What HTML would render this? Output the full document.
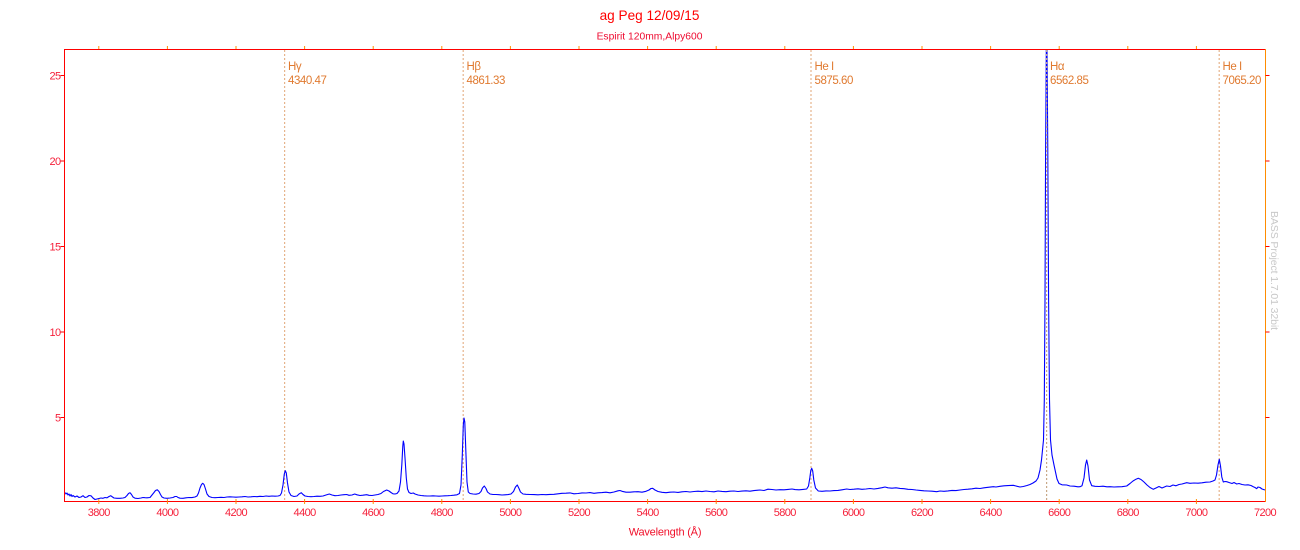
<!DOCTYPE html>
<html>
<head>
<meta charset="utf-8">
<style>
html,body{margin:0;padding:0;background:#fff;}
svg{display:block;}
text{font-family:"Liberation Sans",Arial,sans-serif;}
</style>
</head>
<body>
<svg width="1300" height="550" viewBox="0 0 1300 550" xmlns="http://www.w3.org/2000/svg">
<rect width="1300" height="550" fill="#fff"/>

<!-- Title -->
<text x="649.5" y="20" font-size="13.6" fill="#ff0000" text-anchor="middle">ag Peg 12/09/15</text>
<text x="649.5" y="39.5" font-size="10.3" fill="#ee0a30" text-anchor="middle">Espirit 120mm,Alpy600</text>

<!-- Marker lines -->
<g stroke="#e6b48c" stroke-width="1.2" stroke-dasharray="2,2" fill="none">
  <line x1="284.6" y1="50" x2="284.6" y2="501"/>
  <line x1="463.2" y1="50" x2="463.2" y2="501"/>
  <line x1="811" y1="50" x2="811" y2="501"/>
  <line x1="1219.2" y1="50" x2="1219.2" y2="501"/>
</g>

<!-- Spectrum -->
<polyline fill="none" stroke="#0000ff" stroke-width="1.1" stroke-linejoin="round" points="
65,492.5 66,494 67,493 68,495 69,494 70,496 71,494.5 72,496.5 73,495.5 75,497 77,496 79,497.5 81,497 83,495.7 85,497.5 87,497 89,495.5 91,495.8 93,498 95,499.5 97,499 99,498.5 101,498 103,498.3 105,497.5 107,497.8 109,496.5 110.7,495.7 112.5,497 114,498 117,498.3 120,498.3 123,498 125,497.5 127,495.5 128.5,493.5 130,492.7 131.5,494.5 133,497 135,498.2 138,498.5 141,498 143,497.5 145,497.7 147,497.8 150,497.5 152,495 154,492.5 155.5,490.5 157.3,489.8 159,491.5 160.5,494.5 162,497 164,498 167,498.3 170,498 173,497.5 175,496.5 176.7,496.5 178,497.5 180,498.2 183,498.3 186,497.8 189,497.5 192,497.6 195,497 197,496 198.5,493 200,488 201.5,484.5 202.7,483.3 204,484.5 205.5,489 207,494 209,496.5 212,497.5 215,497.7 218,497.5 221,497.3 224,497.5 227,497 230,496.8 233,497 236,497.2 239,497 242,496.8 245,496.5 248,497 251,496.8 254,496.5 257,496.7 260,496.3 263,496.5 266,496 269,496.3 272,496 275,496.2 278,496 280,495.5 281.5,493 283,485 284.3,474 285.3,470.7 286.3,473 287.5,483 289,492 291,495.5 294,496.5 297,496 299,494 301.3,492.7 303,494.5 305,496 308,496.5 311,496.7 314,496.5 317,496.2 320,496.3 323,496 326,495 329.3,494 332,495 335,495.7 338,495.5 341,495 344,494.7 346.7,494.5 349,495.3 352,495 354.7,494 357,494.8 360,495.5 363,495.2 366.7,494.7 369,495.3 372,495.5 375,495 378,494.5 381,493.5 383.5,491.5 386.7,490 389,491 391,492.5 393,493.8 395,494 397,493.5 399,491 400.5,482 401.8,465 402.8,446 403.3,441 404,444 405,458 406.3,478 407.5,489 409,492.5 411,493.5 413.3,493 415,494 418,495 421,495.5 424,495.8 427,496 430,496 433,495.8 436,496 439,496.2 442,496 445,495.8 448,495.7 451,495.5 454,495.2 457,494.8 459.5,493.5 461,485 462.3,455 463.3,425 464,418 464.8,422 465.8,450 467,482 468.3,492 470,493.5 473,494 476,494.2 479,493.5 481,491.5 482.5,488 484.3,486 486,488.5 487.5,492 490,494 493,494.5 496,494.5 499,494.7 502,495 505,494.8 508,494.6 511,494 513.5,491.5 515.5,487 517.3,485 519,488.5 520.5,492 523,494 526,494.3 530,494.5 534,494.6 538,494.8 542,494.5 546,494.7 550,494.4 554,494.3 558,493.8 562,493.3 566,493.2 570,492.9 574,493.8 578,493.5 582,492.9 586,493 590,492.6 594,493.3 598,492.8 602,492.6 606,492.2 610,492.8 614,492 618,490.8 620,490.5 622,491.3 626,492.2 630,492.2 634,491.8 638,491.7 642,492.2 646,491.3 649,490 651,488.5 652.7,488.3 655,490 658,491.5 662,492.3 666,492.7 670,492.2 674,492 678,492.4 682,491.8 686,491.5 690,492 694,491.5 698,491.2 702,491.6 706,491 710,491.5 714,491.8 718,491 722,491.4 726,491.7 730,491.2 734,491 738,491.5 742,491.1 746,490.8 750,491.2 754,490.6 758,490.2 760,490 764,490.5 768,489.2 772,489.5 776,490 780,489.7 784,489.8 788,489.4 792,489 795,489.6 799,489.8 803,489.4 806.7,489 808.5,486 809.8,478 810.8,470.5 811.7,468.3 812.7,471 813.8,480 815.5,488 818.3,491 822,491.3 826,490.9 830,491 834,490.6 838,490.4 842,489.8 846.7,489 850,489.5 854,489.2 858,488.8 862,489.3 866,489 870,488.5 874,489 878,488.4 882,487.7 885,487 888,487.8 892,488.2 896,487.8 900,488.4 904,488.7 908,489.3 912,489.5 916,490 920,490.4 924,490.8 928,491 932,491.2 936.7,491.7 940,491 944,491.3 948,490.9 952,490.4 956,490.6 960,490 964,489.5 968,489.2 972,488.8 976,488.2 980,488.5 984,487.8 988,487.3 993.3,486.7 996,487 1000,486.3 1004,485.8 1008,485.6 1013.3,485.3 1016,486 1020,487 1023.3,486.5 1027,485.5 1030,484.5 1033,483 1036,481 1038,478 1040,470 1041.5,460 1042.5,450 1043.5,440 1044.3,400 1045,300 1045.6,150 1046.3,50 1047,50 1047.8,150 1048.6,300 1049.5,400 1050.5,440 1052,455 1054,465 1055.5,472 1057,479 1059,483.5 1062,484.8 1066.7,485 1070,486 1074,486.2 1078,486.8 1080,486.7 1082,485.8 1084,478 1085.5,465 1086.7,460 1088,466 1089.5,480 1091.7,485.7 1095,486.3 1099,486.5 1103,486.2 1107,486.8 1110,486.7 1114,487 1118,486.8 1122,486.7 1126.7,486 1130,483.5 1133,481 1136,479.2 1138.3,478.3 1141,479.5 1144,482 1147,485 1150,487.5 1153.3,489.3 1156,488 1159,486.5 1162,488 1166.7,486 1170,486.5 1173,485 1176,485.8 1179,484.5 1182,484 1186.7,482.7 1190,483.3 1194,483 1198,483.2 1202,482.8 1206,482.2 1210,482 1213,481 1215,480 1216.5,475 1218,465 1219.3,459.3 1220.5,466 1221.8,477 1223.3,482 1225,481.5 1226.7,481.7 1229,482.5 1232,483.5 1234,482.5 1236.7,484 1239,483.5 1242,484.5 1245,485 1248,484.8 1251,485.5 1253.3,486.7 1255,487.5 1256.7,488.7 1258,487 1260,487.5 1262,489 1265,490"/>

<!-- Hα marker line drawn over spectrum -->
<line x1="1046.6" y1="50" x2="1046.6" y2="501" stroke="#c8a888" stroke-width="1.2" stroke-dasharray="2,2"/>

<!-- Marker labels -->
<g font-size="11.5" fill="#e07a30" letter-spacing="-0.45">
  <text x="288" y="70">Hγ</text><text x="288" y="84">4340.47</text>
  <text x="466.5" y="70">Hβ</text><text x="466.5" y="84">4861.33</text>
  <text x="814.5" y="70">He I</text><text x="814.5" y="84">5875.60</text>
  <text x="1050" y="70">Hα</text><text x="1050" y="84">6562.85</text>
  <text x="1222.5" y="70">He I</text><text x="1222.5" y="84">7065.20</text>
</g>

<!-- Axes frame -->
<line x1="64.5" y1="49.5" x2="1265.5" y2="49.5" stroke="#ff0000" stroke-width="1"/>
<line x1="64.5" y1="501.5" x2="1265.5" y2="501.5" stroke="#ff0000" stroke-width="1"/>
<line x1="64.5" y1="49" x2="64.5" y2="502" stroke="#ff0000" stroke-width="1"/>
<line x1="1265.5" y1="49" x2="1265.5" y2="502" stroke="#ff8c00" stroke-width="1"/>

<!-- Top & bottom ticks -->
<g stroke="#ff9000" stroke-width="1">
  <line x1="98.8" y1="46" x2="98.8" y2="49"/><line x1="167.4" y1="46" x2="167.4" y2="49"/><line x1="236" y1="46" x2="236" y2="49"/><line x1="304.6" y1="46" x2="304.6" y2="49"/><line x1="373.2" y1="46" x2="373.2" y2="49"/><line x1="441.8" y1="46" x2="441.8" y2="49"/><line x1="510.4" y1="46" x2="510.4" y2="49"/><line x1="579" y1="46" x2="579" y2="49"/><line x1="647.6" y1="46" x2="647.6" y2="49"/><line x1="716.2" y1="46" x2="716.2" y2="49"/><line x1="784.8" y1="46" x2="784.8" y2="49"/><line x1="853.4" y1="46" x2="853.4" y2="49"/><line x1="922" y1="46" x2="922" y2="49"/><line x1="990.6" y1="46" x2="990.6" y2="49"/><line x1="1059.2" y1="46" x2="1059.2" y2="49"/><line x1="1127.8" y1="46" x2="1127.8" y2="49"/><line x1="1196.4" y1="46" x2="1196.4" y2="49"/>
  <line x1="98.8" y1="499" x2="98.8" y2="504"/><line x1="167.4" y1="499" x2="167.4" y2="504"/><line x1="236" y1="499" x2="236" y2="504"/><line x1="304.6" y1="499" x2="304.6" y2="504"/><line x1="373.2" y1="499" x2="373.2" y2="504"/><line x1="441.8" y1="499" x2="441.8" y2="504"/><line x1="510.4" y1="499" x2="510.4" y2="504"/><line x1="579" y1="499" x2="579" y2="504"/><line x1="647.6" y1="499" x2="647.6" y2="504"/><line x1="716.2" y1="499" x2="716.2" y2="504"/><line x1="784.8" y1="499" x2="784.8" y2="504"/><line x1="853.4" y1="499" x2="853.4" y2="504"/><line x1="922" y1="499" x2="922" y2="504"/><line x1="990.6" y1="499" x2="990.6" y2="504"/><line x1="1059.2" y1="499" x2="1059.2" y2="504"/><line x1="1127.8" y1="499" x2="1127.8" y2="504"/><line x1="1196.4" y1="499" x2="1196.4" y2="504"/>
</g>

<!-- Left & right ticks -->
<g stroke="#ff0000" stroke-width="1">
  <line x1="60.5" y1="75.5" x2="64.5" y2="75.5"/><line x1="60.5" y1="161" x2="64.5" y2="161"/><line x1="60.5" y1="246.5" x2="64.5" y2="246.5"/><line x1="60.5" y1="332" x2="64.5" y2="332"/><line x1="60.5" y1="417.5" x2="64.5" y2="417.5"/>
  <line x1="1265.5" y1="75.5" x2="1269.5" y2="75.5"/><line x1="1265.5" y1="161" x2="1269.5" y2="161"/><line x1="1265.5" y1="246.5" x2="1269.5" y2="246.5"/><line x1="1265.5" y1="332" x2="1269.5" y2="332"/><line x1="1265.5" y1="417.5" x2="1269.5" y2="417.5"/>
</g>

<!-- Y tick labels -->
<g font-size="11" fill="#f5203a" text-anchor="end" letter-spacing="-0.6">
  <text x="60.5" y="79.5">25</text>
  <text x="60.5" y="165">20</text>
  <text x="60.5" y="250.5">15</text>
  <text x="60.5" y="336">10</text>
  <text x="60.5" y="421.5">5</text>
</g>

<!-- X tick labels -->
<g font-size="11" fill="#f5203a" text-anchor="middle" letter-spacing="-0.6">
  <text x="98.8" y="516">3800</text><text x="167.4" y="516">4000</text><text x="236" y="516">4200</text><text x="304.6" y="516">4400</text><text x="373.2" y="516">4600</text><text x="441.8" y="516">4800</text><text x="510.4" y="516">5000</text><text x="579" y="516">5200</text><text x="647.6" y="516">5400</text><text x="716.2" y="516">5600</text><text x="784.8" y="516">5800</text><text x="853.4" y="516">6000</text><text x="922" y="516">6200</text><text x="990.6" y="516">6400</text><text x="1059.2" y="516">6600</text><text x="1127.8" y="516">6800</text><text x="1196.4" y="516">7000</text><text x="1265" y="516">7200</text>
</g>

<!-- X axis title -->
<text x="665" y="535.5" font-size="11" fill="#f0102a" text-anchor="middle" letter-spacing="-0.2">Wavelength (Å)</text>

<!-- Watermark -->
<text transform="translate(1271,211) rotate(90)" font-size="10.5" fill="#c8c8c8" letter-spacing="-0.1">BASS Project 1.7.01 32bit</text>
</svg>
</body>
</html>
